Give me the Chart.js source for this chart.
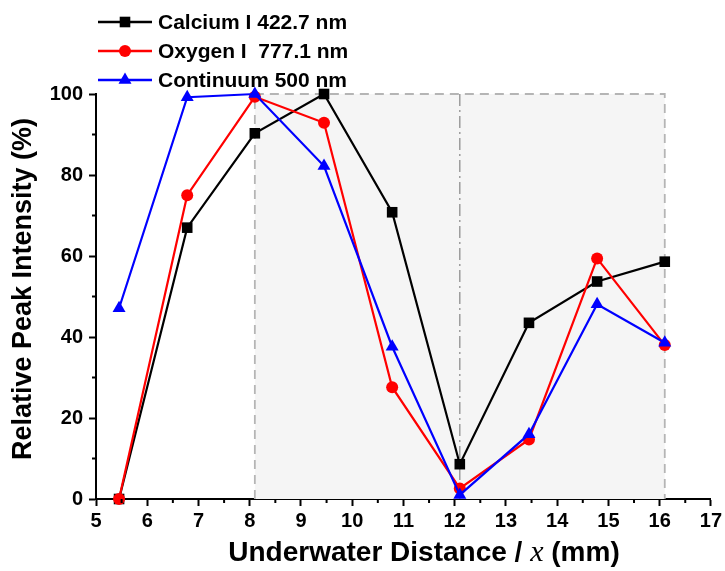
<!DOCTYPE html>
<html>
<head>
<meta charset="utf-8">
<script src="https://cdn.jsdelivr.net/npm/chart.js@4.4.0/dist/chart.umd.min.js"></script>
<style>
  html, body { margin: 0; padding: 0; background: #fff; }
  #wrap { width: 725px; height: 571px; }
</style>
</head>
<body>
<div id="wrap"><canvas id="myChart"></canvas></div>
<script>
// distance from the surface (mm) and relative peak intensity (%)
const distance = [5.45, 6.78, 8.1, 9.45, 10.78, 12.1, 13.45, 14.78, 16.1];
const calcium = [0, 67, 90.3, 100, 70.8, 8.6, 43.5, 53.7, 58.6];
const oxygen = [0, 75, 99.3, 92.9, 27.6, 2.6, 14.7, 59.4, 38];
const continuum = [47.1, 99.2, 100, 82.2, 37.6, 1, 16, 48.1, 38.6];
const seriesNames = ['Calcium I 422.7 nm', 'Oxygen I  777.1 nm', 'Continuum 500 nm'];

// shaded zone: left edge, split line, right edge
const zoneEdges = [8.1, 12.1, 16.1];

const FONT = 'Liberation Sans, Arial, sans-serif';

const toPoints = (vals) => vals.map((v, i) => ({ x: distance[i], y: v }));

function marker(ctx, style, r, cx, cy) {
  ctx.beginPath();
  if (style === 'rect') {
    const s = r * Math.SQRT1_2;
    ctx.rect(cx - s, cy - s, 2 * s, 2 * s);
  } else if (style === 'triangle') {
    ctx.moveTo(cx, cy - r);
    ctx.lineTo(cx + r * 0.866, cy + r / 2);
    ctx.lineTo(cx - r * 0.866, cy + r / 2);
    ctx.closePath();
  } else {
    ctx.arc(cx, cy, r, 0, Math.PI * 2);
  }
  ctx.fill();
}

// grey zone with dashed outline
const zones = {
  id: 'zones',
  beforeDatasetsDraw(chart) {
    const { ctx, scales: { x, y } } = chart;
    const left = x.getPixelForValue(zoneEdges[0]);
    const mid = x.getPixelForValue(zoneEdges[1]);
    const right = x.getPixelForValue(zoneEdges[2]);
    const top = y.getPixelForValue(100);
    const bottom = y.getPixelForValue(0);
    ctx.save();
    ctx.fillStyle = '#f5f5f5';
    ctx.fillRect(left, top, right - left, bottom - top);
    ctx.strokeStyle = '#b5b5b5';
    ctx.lineWidth = 1.8;
    ctx.setLineDash([9, 6]);
    ctx.beginPath();
    ctx.moveTo(left, bottom);
    ctx.lineTo(left, top);
    ctx.lineTo(right, top);
    ctx.lineTo(right, bottom);
    ctx.stroke();
    ctx.strokeStyle = '#8f8f8f';
    ctx.lineWidth = 1.3;
    ctx.setLineDash([12, 4, 2, 4]);
    ctx.beginPath();
    ctx.moveTo(mid, top);
    ctx.lineTo(mid, bottom);
    ctx.stroke();
    ctx.restore();
  }
};

// minor ticks, legend and axis titles
const decor = {
  id: 'decor',
  afterDraw(chart) {
    const { ctx, chartArea: { left, bottom }, scales: { x, y } } = chart;
    ctx.save();
    ctx.strokeStyle = '#000';
    ctx.lineWidth = 2;
    ctx.beginPath();
    for (let v = 5.5; v < 17; v += 1) {
      const px = x.getPixelForValue(v);
      ctx.moveTo(px, bottom);
      ctx.lineTo(px, bottom + 4);
    }
    for (let v = 10; v < 100; v += 20) {
      const py = y.getPixelForValue(v);
      ctx.moveTo(left, py);
      ctx.lineTo(left - 4, py);
    }
    ctx.stroke();

    // legend
    chart.data.datasets.forEach((ds, i) => {
      const ly = 22 + i * 29;
      ctx.strokeStyle = ds.borderColor;
      ctx.lineWidth = 2.5;
      ctx.beginPath();
      ctx.moveTo(98, ly);
      ctx.lineTo(152, ly);
      ctx.stroke();
      ctx.fillStyle = ds.pointBackgroundColor;
      marker(ctx, ds.pointStyle, ds.pointRadius, 125, ly);
      ctx.fillStyle = '#000';
      ctx.font = 'bold 21px ' + FONT;
      ctx.textAlign = 'left';
      ctx.textBaseline = 'middle';
      ctx.fillText(ds.label, 158, ly + 1);
    });

    // y title
    ctx.save();
    ctx.translate(24, 289);
    ctx.rotate(-Math.PI / 2);
    ctx.font = 'bold 27px ' + FONT;
    ctx.textAlign = 'center';
    ctx.textBaseline = 'middle';
    ctx.fillStyle = '#000';
    ctx.fillText('Relative Peak Intensity (%)', 0, 0);
    ctx.restore();

    // x title with italic x
    const parts = [
      ['Underwater Distance / ', 'bold 28px ' + FONT],
      ['x', 'italic 30px Liberation Serif, serif'],
      [' (mm)', 'bold 28px ' + FONT]
    ];
    let total = 0;
    parts.forEach(([t, f]) => { ctx.font = f; total += ctx.measureText(t).width; });
    let tx = 424 - total / 2;
    ctx.textAlign = 'left';
    ctx.textBaseline = 'alphabetic';
    ctx.fillStyle = '#000';
    parts.forEach(([t, f]) => {
      ctx.font = f;
      ctx.fillText(t, tx, 561);
      tx += ctx.measureText(t).width;
    });
    ctx.restore();
  }
};

const data = {
  datasets: [
    {
      label: seriesNames[0], data: toPoints(calcium),
      borderColor: '#000000', backgroundColor: '#000000', pointBackgroundColor: '#000000',
      pointStyle: 'rect', pointRadius: 7.5, order: 3
    },
    {
      label: seriesNames[1], data: toPoints(oxygen),
      borderColor: '#ff0000', backgroundColor: '#ff0000', pointBackgroundColor: '#ff0000',
      pointStyle: 'circle', pointRadius: 6, order: 2
    },
    {
      label: seriesNames[2], data: toPoints(continuum),
      borderColor: '#0000ff', backgroundColor: '#0000ff', pointBackgroundColor: '#0000ff',
      pointStyle: 'triangle', pointRadius: 7.5, order: 1
    }
  ]
};
data.datasets.forEach(ds => {
  ds.borderWidth = 2.2;
  ds.pointBorderWidth = 0;
  ds.pointHoverRadius = ds.pointRadius;
  ds.tension = 0;
  ds.clip = false;
  ds.fill = false;
});

const axisGrid = {
  drawOnChartArea: false,
  drawTicks: true,
  tickLength: 7,
  tickWidth: 2,
  tickColor: '#000'
};

const config = {
  type: 'line',
  data,
  options: {
    responsive: true,
    maintainAspectRatio: false,
    animation: false,
    layout: { padding: { top: 94, right: 11, left: 0, bottom: 0 } },
    scales: {
      x: {
        type: 'linear',
        min: 5,
        max: 17,
        ticks: {
          stepSize: 1,
          color: '#000',
          padding: 3,
          font: { family: FONT, size: 20, weight: 'bold' }
        },
        grid: axisGrid,
        border: { color: '#000', width: 2 },
        afterFit: (scale) => { scale.height = 72; }
      },
      y: {
        min: 0,
        max: 100,
        ticks: {
          stepSize: 20,
          color: '#000',
          padding: 6,
          font: { family: FONT, size: 20, weight: 'bold' }
        },
        grid: axisGrid,
        border: { color: '#000', width: 2 },
        afterFit: (scale) => { scale.width = 96; }
      }
    },
    plugins: {
      legend: { display: false },
      tooltip: { enabled: false }
    }
  },
  plugins: [zones, decor]
};

const myChart = new Chart(document.getElementById('myChart'), config);
</script>
</body>
</html>
